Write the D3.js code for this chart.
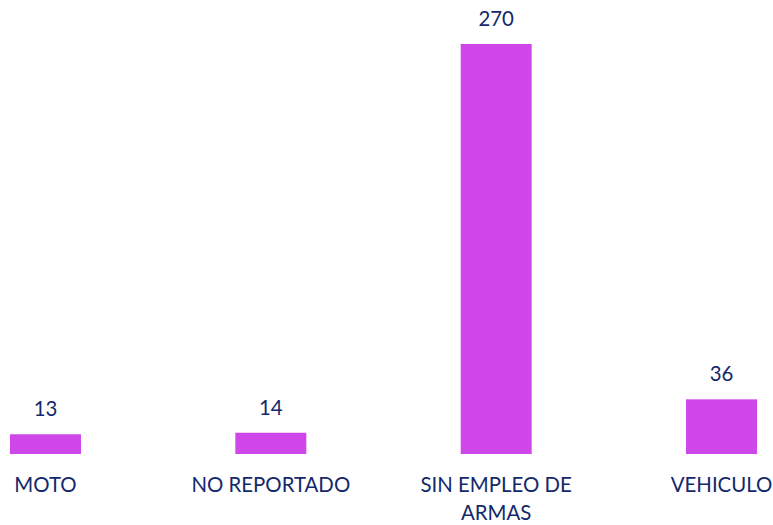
<!DOCTYPE html>
<html>
<head>
<meta charset="utf-8">
<script src="https://cdn.jsdelivr.net/npm/d3@7"></script>
<style>
  html, body { margin: 0; padding: 0; background: #ffffff; }
  svg { display: block; }
</style>
</head>
<body>
<svg id="chart" width="773" height="525"></svg>
<script>
// Category names and their counts
const categories = ["MOTO", "NO REPORTADO", "SIN EMPLEO DE ARMAS", "VEHICULO"];
const values = [13, 14, 270, 36];

const W = 773, H = 525;
const barColor = "#CF46E9";
const textColor = "#13296B";
const fontFamily = "Lato, 'Open Sans', sans-serif";
const fontSize = 20.4;

const svg = d3.select("#chart");

const x = d3.scaleBand()
  .domain(categories)
  .range([-67.2, 834.2])
  .paddingInner(0.685)
  .paddingOuter(0.3425);

const y = d3.scaleLinear()
  .domain([0, 270])
  .range([454, 44]);

const data = categories.map((c, i) => ({ cat: c, val: values[i] }));

// Bars
svg.append("g")
  .selectAll("rect")
  .data(data)
  .join("rect")
  .attr("x", d => x(d.cat))
  .attr("y", d => y(d.val))
  .attr("width", x.bandwidth())
  .attr("height", d => y(0) - y(d.val))
  .attr("fill", barColor);

// Value labels above bars
svg.append("g")
  .selectAll("text")
  .data(data)
  .join("text")
  .attr("x", d => x(d.cat) + x.bandwidth() / 2)
  .attr("y", d => y(d.val) - 18)
  .attr("text-anchor", "middle")
  .attr("font-family", fontFamily)
  .attr("font-size", fontSize)
  .attr("fill", textColor)
  .text(d => d.val);

// Category axis (no line, no ticks), labels wrapped to fit the band
const axis = svg.append("g")
  .attr("transform", `translate(0,${y(0)})`)
  .call(d3.axisBottom(x).tickSize(0).tickPadding(0));
axis.select(".domain").remove();

axis.selectAll(".tick text").each(function(label) {
  const t = d3.select(this);
  t.text(null)
    .attr("y", 0)
    .attr("dy", null)
    .attr("font-family", fontFamily)
    .attr("font-size", fontSize)
    .attr("fill", textColor);
  const words = label.split(" ");
  const maxW = 180;
  let lines = [], line = [];
  const probe = t.append("tspan");
  words.forEach(w => {
    const trial = line.concat(w).join(" ");
    probe.text(trial);
    if (probe.node().getComputedTextLength() > maxW && line.length) {
      lines.push(line.join(" "));
      line = [w];
    } else {
      line.push(w);
    }
  });
  lines.push(line.join(" "));
  probe.remove();
  lines.forEach((ln, i) => {
    t.append("tspan")
      .attr("x", 0)
      .attr("y", 38 + i * 28)
      .text(ln);
  });
});
</script>
</body>
</html>
